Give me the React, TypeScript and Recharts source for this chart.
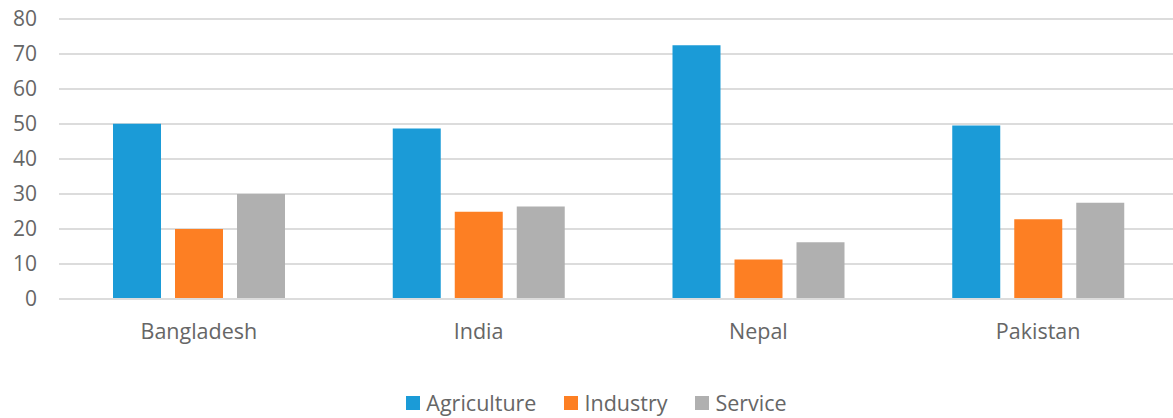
import { BarChart, Bar, XAxis, YAxis, CartesianGrid } from 'recharts'

const countries = ['Bangladesh', 'India', 'Nepal', 'Pakistan']
const agriculture = [50.1, 48.7, 72.5, 49.6]
const industry = [20.0, 24.9, 11.3, 22.8]
const service = [30.0, 26.4, 16.2, 27.5]
const yTicks = [0, 10, 20, 30, 40, 50, 60, 70, 80]

const series = [
  { key: 'agriculture', name: 'Agriculture', color: '#1b9bd7' },
  { key: 'industry', name: 'Industry', color: '#fd7f23' },
  { key: 'service', name: 'Service', color: '#b0b0b0' },
]

const data = countries.map((country, i) => ({
  country,
  agriculture: agriculture[i],
  industry: industry[i],
  service: service[i],
}))

const textColor = '#666666'
const font = '"Open Sans", sans-serif'

export default function App() {
  return (
    <div style={{ position: 'absolute', left: 0, top: 0, width: 1173, height: 418, background: '#fff', fontFamily: font, overflow: 'hidden' }}>
      {/* plot runs a little past the right edge, as in the cropped source */}
      <BarChart
        width={1173}
        height={418}
        data={data}
        margin={{ top: 19, right: -5, left: 0, bottom: 89 }}
        barSize={48}
        barGap={14}
      >
        <CartesianGrid vertical={false} stroke="#dcdcdc" strokeWidth={2} />
        <XAxis
          dataKey="country"
          height={30}
          tickLine={false}
          axisLine={{ stroke: '#dcdcdc', strokeWidth: 2 }}
          tickSize={0}
          tickMargin={25}
          tick={{ fill: textColor, fontSize: 21.5, fontFamily: font }}
        />
        <YAxis
          domain={[0, 80]}
          ticks={yTicks}
          width={59}
          axisLine={false}
          tickLine={false}
          tickSize={0}
          tickMargin={22}
          tick={{ fill: textColor, fontSize: 21, fontFamily: font }}
        />
        {series.map((s) => (
          <Bar key={s.key} dataKey={s.key} name={s.name} fill={s.color} isAnimationActive={false} />
        ))}
      </BarChart>

      {/* legend */}
      <div style={{
        position: 'absolute', left: 10, top: 391, width: 1173,
        display: 'flex', justifyContent: 'center', alignItems: 'center', gap: 28,
      }}>
        {series.map((s) => (
          <div key={s.key} style={{ display: 'flex', alignItems: 'center', gap: 6 }}>
            <span style={{ width: 14, height: 14, background: s.color, display: 'inline-block' }} />
            <span style={{ color: textColor, fontSize: 21.5, lineHeight: '24px' }}>{s.name}</span>
          </div>
        ))}
      </div>
    </div>
  )
}
